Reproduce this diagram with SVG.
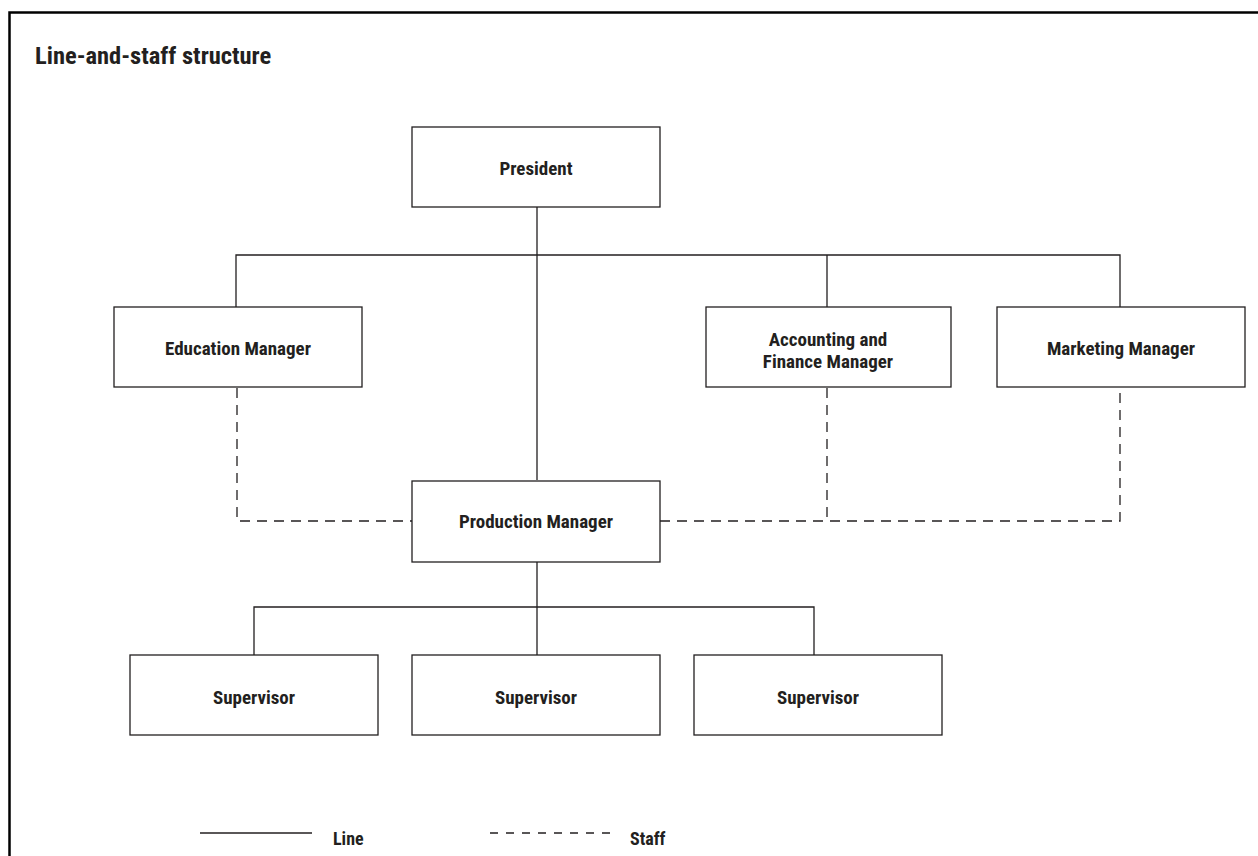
<svg xmlns="http://www.w3.org/2000/svg" width="1258" height="856" viewBox="0 0 1258 856">
<style>
text{font-family:"Liberation Sans Narrow","Roboto Condensed","Liberation Sans",sans-serif;font-weight:bold;fill:#231f20;}
.lbl{font-size:19px;text-anchor:middle;}
.title{font-size:24.5px;}
.leg{font-size:18px;}
.box{fill:#fff;stroke:#231f20;stroke-width:1.3;}
.ln{fill:none;stroke:#231f20;stroke-width:1.3;}
.st{fill:none;stroke:#231f20;stroke-width:1.3;stroke-dasharray:10 7;}
</style>
<rect width="1258" height="856" fill="#fff"/>
<path d="M9.5 856V12.5H1258" fill="none" stroke="#000" stroke-width="2.5"/>
<text class="title" x="35" y="64">Line-and-staff structure</text>
<g id="connectors">
<path class="ln" d="M537 207V480M236 307V255H1120V307M827 255V307"/>
<path class="ln" d="M537 562V655M254 655V607H814V655"/>
<path class="st" d="M237 388V521H412"/>
<path class="st" d="M660 521H1120V388M827 388V521"/>
</g>
<g id="president"><rect class="box" x="412" y="127" width="248" height="80"/><text class="lbl" x="536" y="175">President</text></g>
<g id="education"><rect class="box" x="114" y="307" width="248" height="80"/><text class="lbl" x="238" y="355">Education Manager</text></g>
<g id="accounting"><rect class="box" x="706" y="307" width="245" height="80"/><text class="lbl" x="828" y="346">Accounting and</text><text class="lbl" x="828" y="368">Finance Manager</text></g>
<g id="marketing"><rect class="box" x="997" y="307" width="248" height="80"/><text class="lbl" x="1121" y="355">Marketing Manager</text></g>
<g id="production"><rect class="box" x="412" y="481" width="248" height="81"/><text class="lbl" x="536" y="528">Production Manager</text></g>
<g id="sup1"><rect class="box" x="130" y="655" width="248" height="80"/><text class="lbl" x="254" y="704">Supervisor</text></g>
<g id="sup2"><rect class="box" x="412" y="655" width="248" height="80"/><text class="lbl" x="536" y="704">Supervisor</text></g>
<g id="sup3"><rect class="box" x="694" y="655" width="248" height="80"/><text class="lbl" x="818" y="704">Supervisor</text></g>
<g id="legend">
<path class="ln" d="M200 833H312"/>
<text class="leg" x="333" y="845">Line</text>
<path class="st" d="M490 833H612" style="stroke-dasharray:8 8"/>
<text class="leg" x="630" y="845">Staff</text>
</g>
</svg>
